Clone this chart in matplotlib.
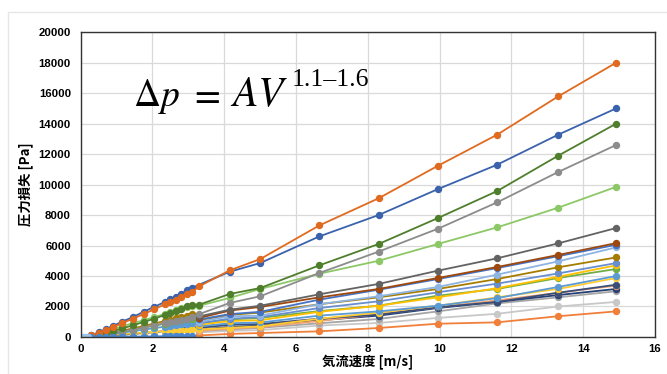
import matplotlib.pyplot as plt
import numpy as np
from matplotlib.patches import Rectangle

plt.rcParams['font.family'] = ['Noto Sans CJK JP', 'DejaVu Sans']
plt.rcParams['mathtext.fontset'] = 'stix'

# low range velocities (dense points) and high range velocities [m/s]
lo_x = [0.3, 0.5, 0.7, 0.9, 1.15, 1.45, 1.75, 2.05, 2.35, 2.5, 2.65, 2.8, 2.95, 3.1]
hi_x = [3.3, 4.15, 5.0, 6.65, 8.3, 9.95, 11.6, 13.3, 14.92]

# pressure loss [Pa], low range
orange_lo = [100, 260, 450, 640, 900, 1200, 1500, 1820, 2150, 2300, 2450, 2650, 2820, 2950]
blue_lo = [120, 300, 520, 720, 1000, 1300, 1650, 1980, 2300, 2500, 2650, 2850, 3050, 3230]
dkgreen_lo = [60, 150, 270, 390, 560, 760, 980, 1200, 1450, 1580, 1700, 1850, 2000, 2120]
ltgreen_lo = [80, 200, 350, 500, 700, 900, 1100, 1300, 1520, 1650, 1750, 1880, 1980, 2060]
gray_lo = [40, 100, 180, 260, 360, 480, 620, 760, 900, 980, 1050, 1130, 1200, 1280]
olive_lo = [40, 110, 200, 290, 410, 560, 720, 880, 1050, 1140, 1230, 1320, 1400, 1480]
green_lo = [40, 100, 180, 260, 360, 480, 610, 740, 880, 950, 1020, 1090, 1150, 1200]
ltblue_lo = [30, 80, 140, 200, 280, 380, 480, 580, 680, 730, 780, 830, 880, 920]
yellow_lo = [20, 50, 90, 130, 180, 240, 290, 340, 390, 420, 440, 460, 480, 500]
navy_lo = [10, 30, 60, 90, 140, 200, 260, 320, 390, 420, 460, 500, 540, 590]
bottom_blue_lo = [0, 0, 0, 0, 10, 20, 30, 40, 50, 55, 60, 70, 80, 90]
zero_x = [0.0, 0.05, 0.1, 0.15, 0.2]
zero_y = [0, 0, 0, 0, 0]

# pressure loss [Pa], high range (None = no point)
orange_hi = [3320, 4370, 5110, 7320, 9100, 11230, 13270, 15780, 18000]
blue_hi = [None, 4280, 4850, 6600, 8000, 9700, 11300, 13270, 15000]
dkgreen_hi = [2120, 2820, 3210, 4700, 6100, 7800, 9570, 11890, 14000]
gray_hi = [1500, 2230, 2670, 4200, 5600, 7100, 8830, 10820, 12600]
ltgreen_hi = [2050, 2560, 3150, 4150, 5000, 6100, 7190, 8480, 9850]
dkgray_hi = [1350, 1790, 2050, 2800, 3480, 4350, 5160, 6140, 7150]
brown_hi = [1250, 1730, 1970, 2600, 3150, 3870, 4590, 5380, 6160]
blue2_hi = [1150, 1500, 1650, 2450, 3100, 3800, 4520, 5300, 6050]
ltblue2_hi = [1000, 1350, 1400, 2150, 2670, 3280, 4090, 4960, 5880]
olive_hi = [1100, 1450, 1600, 2150, 2600, 3150, 3800, 4570, 5220]
mdblue_hi = [900, 1200, 1300, 1900, 2340, 2930, 3500, 4170, 4850]
yellow2_hi = [800, 1050, 1100, 1650, 2050, 2600, 3200, 3950, 4700]
green_hi = [900, 1150, 1250, 1700, 2050, 2710, 3150, 3870, 4460]
ltblue_hi = [700, 900, 950, 1400, 1680, 2050, 2550, 3280, 4000]
yellow_hi = [500, 600, 700, 1200, 1600, 2050, 2600, 3150, 3870]
dknavy_hi = [600, 800, 850, 1200, 1460, 1950, 2300, 2900, 3430]
ltorange_hi = [400, 550, 650, 1050, 1500, 1950, 2400, 2900, 3370]
navy_hi = [500, 650, 750, 1100, 1400, 1900, 2300, 2750, 3150]
gray2_hi = [400, 500, 600, 900, 1180, 1680, 2200, 2600, 3000]
ltgray_hi = [300, 400, 450, 750, 920, 1250, 1520, 2000, 2300]
orange2_hi = [100, 200, 260, 370, 590, 870, 960, 1360, 1680]

# (low part, high part, colour)
series = [
    (None, ltgray_hi, '#c8c8c8'),
    (None, orange2_hi, '#f07f3a'),
    (None, gray2_hi, '#a5a5a5'),
    (navy_lo, navy_hi, '#243f73'),
    (None, ltorange_hi, '#f2a36f'),
    (None, dknavy_hi, '#3b4e7a'),
    (yellow_lo, yellow_hi, '#ffcc33'),
    (ltblue_lo, ltblue_hi, '#5b9bd5'),
    (green_lo, green_hi, '#70ad47'),
    (None, yellow2_hi, '#ffc000'),
    (None, mdblue_hi, '#698ed0'),
    (olive_lo, olive_hi, '#a67c00'),
    (None, ltblue2_hi, '#8db4e2'),
    (None, blue2_hi, '#4472c4'),
    (None, brown_hi, '#9e480e'),
    (None, dkgray_hi, '#636363'),
    (ltgreen_lo, ltgreen_hi, '#8cc866'),
    (gray_lo, gray_hi, '#8c8c8c'),
    (dkgreen_lo, dkgreen_hi, '#4f7f2c'),
    (blue_lo, blue_hi, '#3a62ad'),
    (orange_lo, orange_hi, '#e06a20'),
]

fig = plt.figure(figsize=(6.67, 3.74), dpi=100)
ax = fig.add_axes([0.121, 0.099, 0.861, 0.815])

fig.patches.append(Rectangle((0.012, -0.01), 1.0, 0.978, transform=fig.transFigure,
                             fill=False, edgecolor='#e6e6e6', linewidth=1.0))

for lo, hi, c in series:
    xs, ys = [], []
    if lo is not None:
        xs += lo_x
        ys += lo
    for x, y in zip(hi_x, hi):
        if y is not None:
            xs.append(x)
            ys.append(y)
    ax.plot(xs, ys, color=c, marker='o', markersize=4.3, linewidth=1.3)

ax.plot(lo_x, bottom_blue_lo, color='#4a86d0', marker='o', markersize=4.3, linewidth=1.3)
ax.plot(zero_x, zero_y, color='#9dc3e6', marker='o', markersize=4.3, linewidth=1.3)

ax.set_xlim(0, 16)
ax.set_ylim(0, 20000)
ax.set_xticks(np.arange(0, 17, 2))
ax.set_yticks(np.arange(0, 20001, 2000))
ax.grid(True, color='#d9d9d9', linewidth=0.9)
ax.set_axisbelow(True)
ax.tick_params(length=0, labelsize=8.2)
ax.tick_params(axis='x', pad=5)
ax.tick_params(axis='y', pad=7)
for lab in ax.get_xticklabels() + ax.get_yticklabels():
    lab.set_fontweight('bold')
    lab.set_family(['Liberation Sans', 'DejaVu Sans'])
for s in ax.spines.values():
    s.set_color('#333333')
    s.set_linewidth(1.0)

ax.set_xlabel('気流速度 [m/s]', fontsize=9.6, fontweight='bold', labelpad=1)
ax.set_ylabel('圧力損失 [Pa]', fontsize=9.6, fontweight='bold', labelpad=4)

# formula, laid out piece by piece to get the wide spacing of the original
ax.text(1.45, 15170, r'$\Delta p$', fontsize=27, color='black')
ax.text(3.02, 15170, r'$=$', fontsize=27, color='black')
ax.text(4.15, 15170, r'$AV$', fontsize=30, color='black')
ax.text(5.88, 16480, '1.1–1.6', fontsize=18.5, color='black',
        family=['Liberation Serif', 'DejaVu Serif'])

plt.savefig('out.png', dpi=100)
